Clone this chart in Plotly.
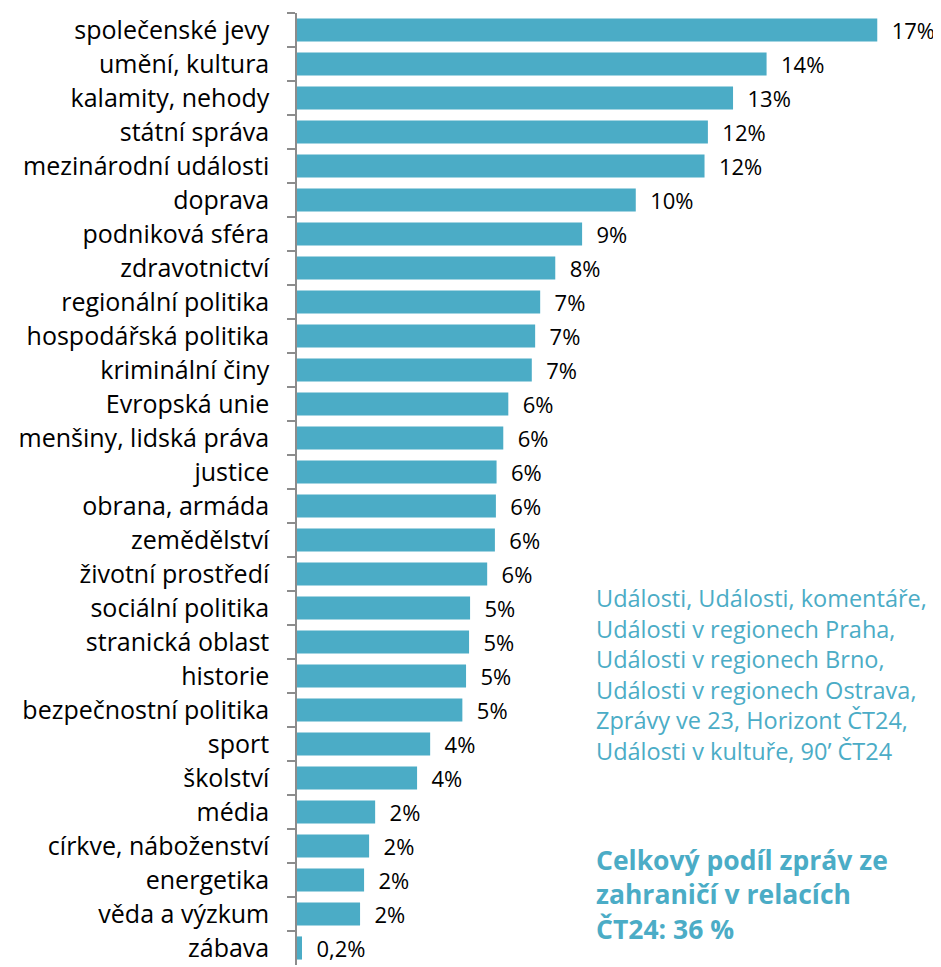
import plotly.graph_objects as go

teal = "#4BACC6"

# categories top to bottom
topics = [
    "společenské jevy", "umění, kultura", "kalamity, nehody", "státní správa",
    "mezinárodní události", "doprava", "podniková sféra", "zdravotnictví",
    "regionální politika", "hospodářská politika", "kriminální činy",
    "Evropská unie", "menšiny, lidská práva", "justice", "obrana, armáda",
    "zemědělství", "životní prostředí", "sociální politika", "stranická oblast",
    "historie", "bezpečnostní politika", "sport", "školství", "média",
    "církve, náboženství", "energetika", "věda a výzkum", "zábava",
]
share = [
    17.3, 14.0, 13.0, 12.25, 12.15, 10.1, 8.5, 7.7, 7.25, 7.1, 7.0,
    6.3, 6.15, 5.95, 5.93, 5.9, 5.67, 5.16, 5.13, 5.04, 4.93,
    3.97, 3.58, 2.33, 2.15, 2.0, 1.88, 0.15,
]
share_labels = [
    "17%", "14%", "13%", "12%", "12%", "10%", "9%", "8%", "7%", "7%", "7%",
    "6%", "6%", "6%", "6%", "6%", "6%", "5%", "5%", "5%", "5%",
    "4%", "4%", "2%", "2%", "2%", "2%", "0,2%",
]

programmes = [
    "Události, Události, komentáře,",
    "Události v regionech Praha,",
    "Události v regionech Brno,",
    "Události v regionech Ostrava,",
    "Zprávy ve 23, Horizont ČT24,",
    "Události v kultuře, 90’ ČT24",
]
summary = ["Celkový podíl zpráv ze", "zahraničí v relacích", "ČT24: 36 %"]

font_family = "'Open Sans', Lato, sans-serif"

bars = go.Bar(
    x=share,
    y=topics,
    orientation="h",
    marker=dict(color=teal, line=dict(width=0)),
    text=share_labels,
    texttemplate="  %{text}",
    textposition="outside",
    constraintext="none",
    textfont=dict(size=22, color="#000000", family=font_family),
    cliponaxis=False,
)

# page body has an 8px margin, so the figure starts at (8, 8)
layout = go.Layout(
    width=941,
    height=967,
    margin=dict(l=289, r=8, t=5, b=10),
    plot_bgcolor="white",
    paper_bgcolor="white",
    bargap=0.32,
    showlegend=False,
    font=dict(family=font_family, size=21, color="#000000"),
    xaxis=dict(range=[0, 19.2], visible=False, showgrid=False, zeroline=False),
    yaxis=dict(
        categoryorder="array",
        categoryarray=topics,
        autorange="reversed",
        automargin=False,
        showline=True,
        linecolor="#8c8c8c",
        linewidth=1.5,
        ticks="outside",
        tickson="boundaries",
        ticklen=8,
        tickcolor="#8c8c8c",
        tickwidth=1.5,
        ticklabelstandoff=21,
        tickfont=dict(size=25, color="#000000", family=font_family),
        showgrid=False,
    ),
    annotations=[
        dict(
            xref="paper", yref="paper", x=0.461, y=0.404,
            xanchor="left", yanchor="top", align="left", showarrow=False,
            text="<br>".join(programmes),
            font=dict(size=23.5, color=teal, family=font_family),
        ),
        dict(
            xref="paper", yref="paper", x=0.461, y=0.131,
            xanchor="left", yanchor="top", align="left", showarrow=False,
            text="<b>" + "<br>".join(summary) + "</b>",
            font=dict(size=26.5, color=teal, family=font_family),
        ),
    ],
)

fig = go.Figure(data=[bars], layout=layout)
fig.write_html("out.html")
